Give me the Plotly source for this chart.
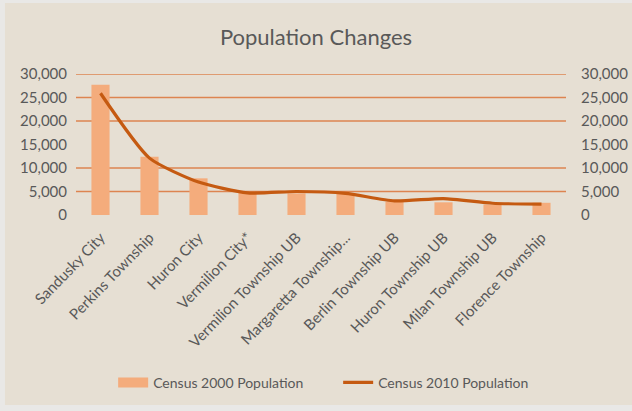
import plotly.graph_objects as go

# Municipalities and census counts
places = [
    "Sandusky City", "Perkins Township", "Huron City", "Vermilion City*",
    "Vermilion Township UB", "Margaretta Township...", "Berlin Township UB",
    "Huron Township UB", "Milan Township UB", "Florence Township",
]
pop_2000 = [27700, 12400, 7800, 4700, 4600, 4600, 2800, 2700, 2200, 2600]
pop_2010 = [25900, 12100, 7000, 4700, 5000, 4600, 3000, 3500, 2500, 2300]

y_ticks = [0, 5000, 10000, 15000, 20000, 25000, 30000]
y_tick_text = ["0", "5,000", "10,000", "15,000", "20,000", "25,000", "30,000"]
grid_values = [5000, 10000, 20000, 25000, 30000]

BAR = "#F4AC7C"
LINE = "#C55A11"
GRID = "#DD8450"
TEXT = "#595959"
BG = "#E6DFD3"
EDGE = "#E9E8E6"
FONT = "Lato"

fig = go.Figure()
fig.add_trace(go.Bar(
    x=places, y=pop_2000, name="Census 2000 Population",
    marker=dict(color=BAR, line=dict(width=0)), width=0.37, showlegend=False,
))
# wide legend swatch for the bar series
fig.add_trace(go.Scatter(
    x=[None], y=[None], name="Census 2000 Population", mode="lines",
    line=dict(color=BAR, width=10), hoverinfo="skip",
))
fig.add_trace(go.Scatter(
    x=places, y=pop_2010, name="Census 2010 Population", mode="lines",
    line=dict(color=LINE, width=3.2, shape="spline", smoothing=0.6),
))
# invisible trace carrying the secondary (right) axis
fig.add_trace(go.Scatter(
    x=places, y=pop_2010, yaxis="y2", mode="lines",
    line=dict(width=0), showlegend=False, hoverinfo="skip", opacity=0,
))

shapes = [
    dict(type="line", xref="paper", x0=0, x1=1, yref="y", y0=v, y1=v,
         line=dict(color=GRID, width=1.3), layer="below")
    for v in grid_values
]
# chart area panel inside a pale outer edge
shapes.insert(0, dict(type="rect", xref="paper", yref="paper",
                      x0=-0.145, x1=1.2, y0=-1.348, y1=1.504,
                      line=dict(width=0), fillcolor=BG, layer="below"))

fig.update_layout(
    width=632, height=411,
    margin=dict(l=76, r=66, t=74, b=196),
    paper_bgcolor=EDGE, plot_bgcolor="rgba(0,0,0,0)",
    font=dict(family=FONT, color=TEXT, size=14),
    title=dict(text="Population Changes", x=0.5, xanchor="center",
               y=0.91, yanchor="middle",
               font=dict(family=FONT, size=22, color=TEXT)),
    showlegend=True,
    legend=dict(orientation="h", x=0.535, xanchor="center", y=-1.19, yanchor="middle",
                font=dict(family=FONT, size=14, color=TEXT),
                bgcolor="rgba(0,0,0,0)", itemwidth=30,
                entrywidth=180, entrywidthmode="pixels"),
    bargap=0.63,
    shapes=shapes,
    xaxis=dict(tickangle=-46, showgrid=False, showline=False, zeroline=False,
               ticks="", ticklabelstandoff=10,
               tickfont=dict(family=FONT, size=15, color=TEXT),
               range=[-0.5, 9.5], automargin=False),
    yaxis=dict(range=[0, 30000], tickvals=y_ticks, ticktext=y_tick_text,
               showgrid=False, zeroline=False, showline=False, ticks="",
               ticklabelstandoff=8, automargin=False,
               tickfont=dict(family=FONT, size=15, color=TEXT)),
    yaxis2=dict(range=[0, 30000], tickvals=y_ticks, ticktext=y_tick_text,
                overlaying="y", side="right", showgrid=False, zeroline=False,
                showline=False, ticks="", ticklabelstandoff=14, automargin=False,
                tickfont=dict(family=FONT, size=15, color=TEXT)),
)

fig.write_html("out.html")
